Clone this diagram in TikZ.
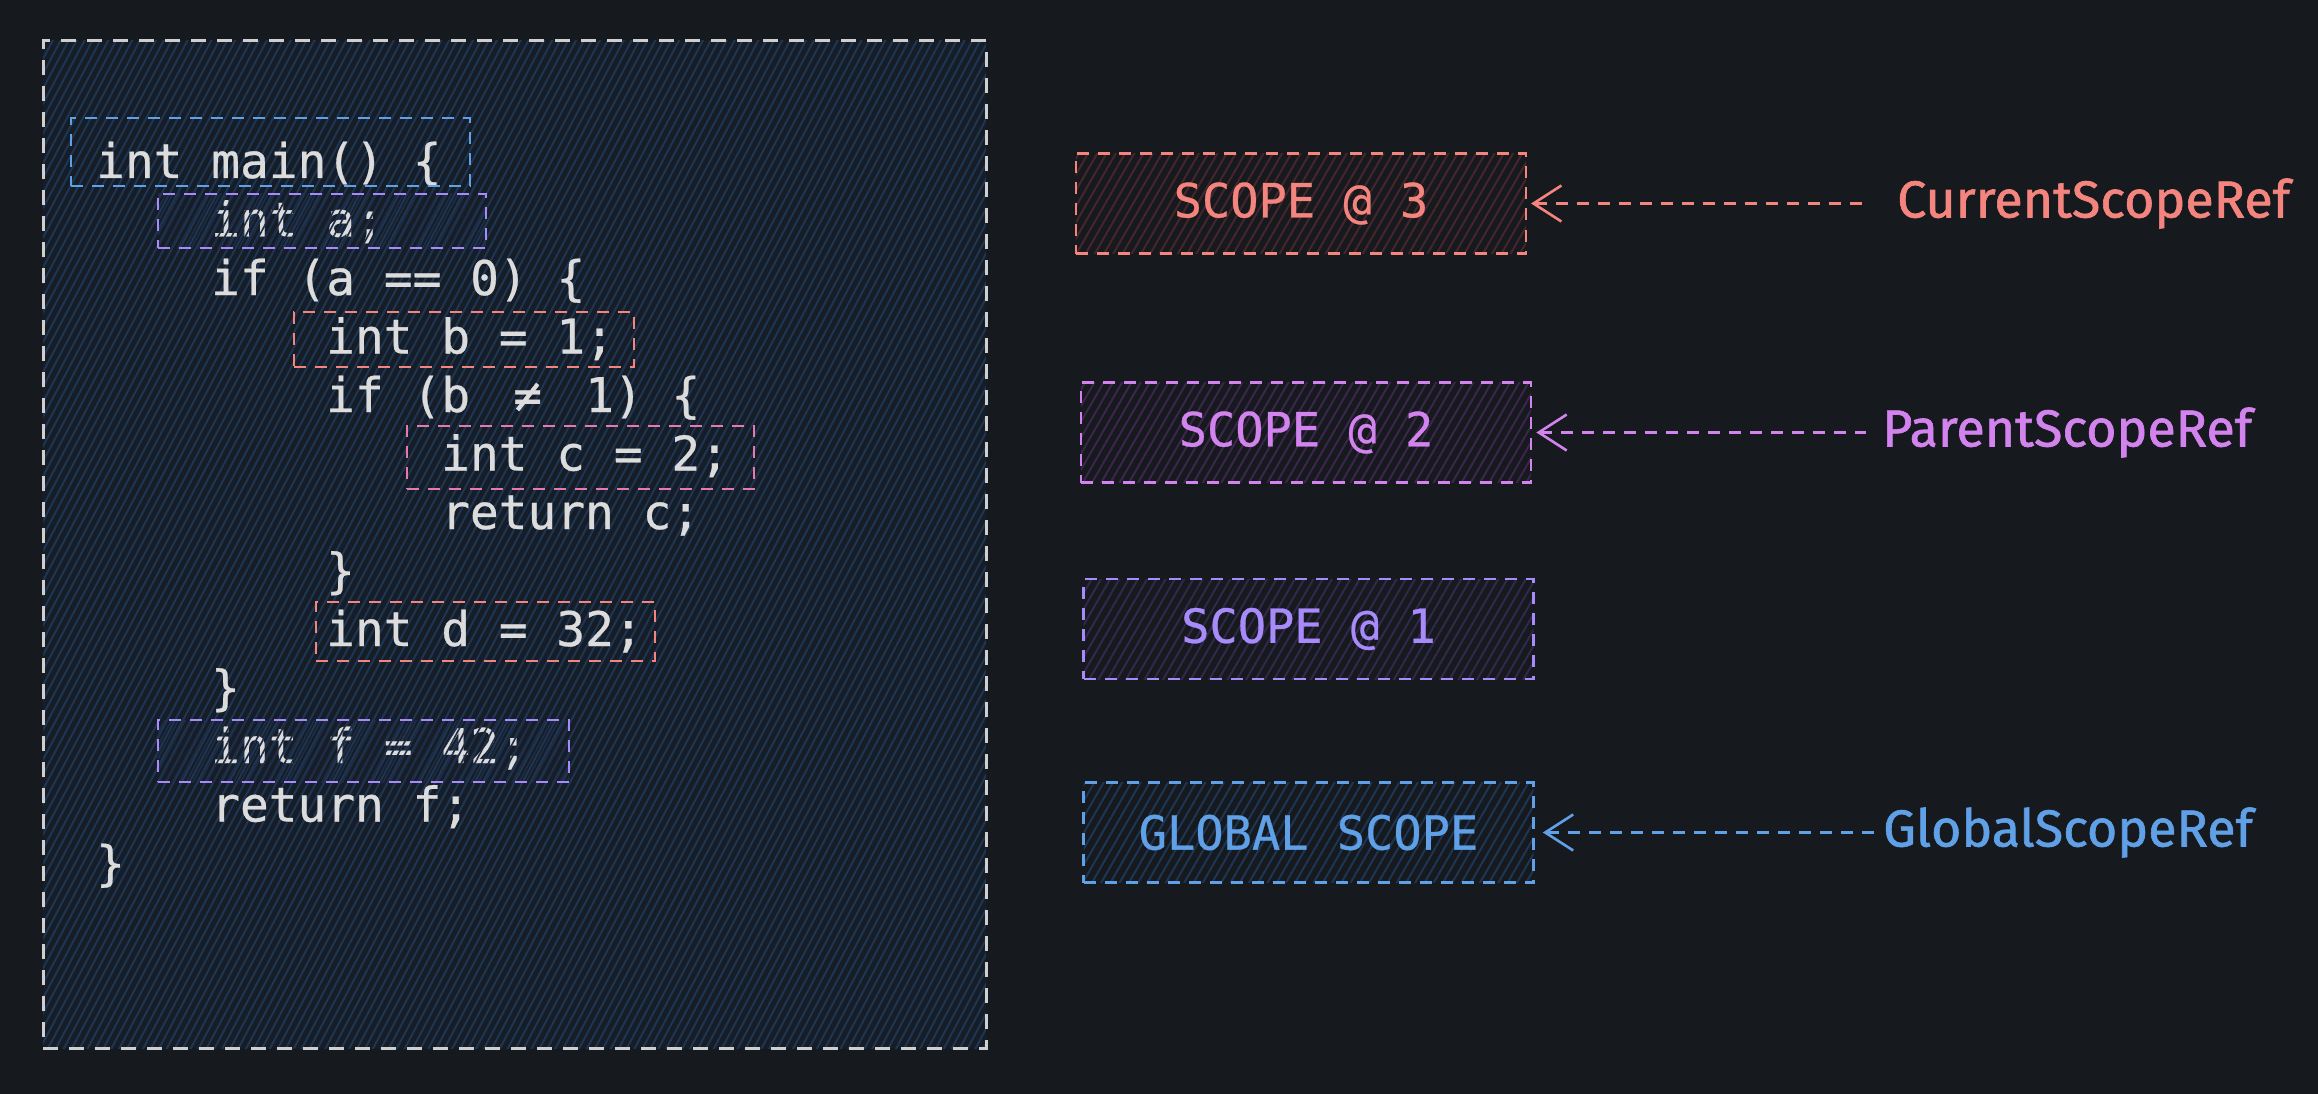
\documentclass[tikz,border=0pt]{standalone}
\usepackage{fontspec}
\setmainfont{Fira Sans}
\newfontfamily\codefont[FakeBold=0.6]{DejaVu Sans Mono}
\newfontfamily\handfont[FakeBold=1.2]{Fira Sans}
\usetikzlibrary{patterns.meta,arrows.meta}
\definecolor{bg}{HTML}{16191E}
\definecolor{codebg}{HTML}{161D27}
\definecolor{codehatch}{HTML}{1D3654}
\definecolor{frame}{HTML}{CFCFCF}
\definecolor{codetext}{HTML}{DCDCDC}
\definecolor{cblue}{HTML}{5FA0E6}
\definecolor{cpurple}{HTML}{A78BFA}
\definecolor{cred}{HTML}{F4847E}
\definecolor{cpink}{HTML}{E67AAE}
\definecolor{corchid}{HTML}{D383EE}
\begin{document}
\begin{tikzpicture}[x=1pt,y=-1pt,
  bigbox/.style={draw=frame, line width=3pt, dash pattern=on 15pt off 11pt,
    preaction={fill=codebg},
    pattern={Lines[angle=62,distance=7pt,line width=2pt]}, pattern color=codehatch,
    inner sep=0pt},
  codeline/.style={font=\codefont\fontsize{47.8}{58}\selectfont, text=codetext, anchor=base west, inner sep=0pt},
  cbox/.style={draw=#1, line width=2.6pt, dash pattern=on 12pt off 9pt, inner sep=0pt},
  scopebox/.style={draw=#1, text=#1, line width=2.6pt, dash pattern=on 12pt off 9pt,
    font=\codefont\fontsize{47}{52}\selectfont, inner sep=0pt,
    minimum width=450pt, minimum height=100pt},
  reflabel/.style={text=#1, font=\handfont\fontsize{52}{60}\selectfont, anchor=west, inner sep=0pt},
  ref/.style={draw=#1, line width=2.6pt, dash pattern=on 12pt off 9pt,
    arrows={Straight Barb[length=28pt,width=36pt,line width=2.6pt]-}}
]
\fill[bg] (0,0) rectangle (2318,1094);
\useasboundingbox (0,0) rectangle (2318,1094);

% code frame
\node[bigbox, minimum width=943pt, minimum height=1007pt] (frame) at (514.5,544.5) {};

% code lines
\node[codeline] (l1) at (96,178) {int main() \{};
\node[codeline] (l2) at (211,236.5) {int a;};
\node[codeline] (l3) at (211,295) {if (a == 0) \{};
\node[codeline] (l4) at (326,353.5) {int b = 1;};
\node[codeline] (l5) at (326,412) {if (b \makebox[57.6pt]{≠} 1) \{};
\node[codeline] (l6) at (441,470.5) {int c = 2;};
\node[codeline] (l7) at (441,529) {return c;};
\node[codeline] (l8) at (326,587.5) {\}};
\node[codeline] (l9) at (326,646) {int d = 32;};
\node[codeline] (l10) at (211,704.5) {\}};
\node[codeline] (l11) at (211,763) {int f = 42;};
\node[codeline] (l12) at (211,821.5) {return f;};
\node[codeline] (l13) at (96,880) {\}};

% scope boxes around code
\node[cbox=cblue, minimum width=399pt, minimum height=68pt] (bmain) at (270.5,152) {};
\node[cbox=cpurple, minimum width=328pt, minimum height=54pt,
      pattern={Lines[angle=62,distance=6pt,line width=1.6pt]},
      pattern color={rgb,255:red,30;green,44;blue,70}] (ba) at (322,221) {};
\node[cbox=cred, minimum width=340pt, minimum height=55pt] (bb) at (464,339.5) {};
\node[cbox=cpink, minimum width=347pt, minimum height=63pt] (bc) at (580.5,457.5) {};
\node[cbox=cred, minimum width=339pt, minimum height=59pt] (bd) at (485.5,631.5) {};
\node[cbox=cpurple, minimum width=411pt, minimum height=62pt,
      pattern={Lines[angle=62,distance=6pt,line width=1.6pt]},
      pattern color={rgb,255:red,30;green,44;blue,70}] (bf) at (363.5,751) {};

% right-hand scope boxes
\node[scopebox=cred, preaction={fill=bg},
      pattern={Lines[angle=60,distance=8pt,line width=2pt]}, pattern color={rgb,255:red,70;green,38;blue,42}]
      (s3) at (1301,203.5) {SCOPE @ 3};
\node[scopebox=corchid, preaction={fill=bg},
      pattern={Lines[angle=60,distance=8pt,line width=2pt]}, pattern color={rgb,255:red,60;green,38;blue,76}]
      (s2) at (1306,432.5) {SCOPE @ 2};
\node[scopebox=cpurple, preaction={fill=bg},
      pattern={Lines[angle=60,distance=8pt,line width=2pt]}, pattern color={rgb,255:red,50;green,40;blue,76}]
      (s1) at (1308.5,629) {SCOPE @ 1};
\node[scopebox=cblue, preaction={fill=bg},
      pattern={Lines[angle=60,distance=8pt,line width=2pt]}, pattern color={rgb,255:red,28;green,54;blue,84}]
      (sg) at (1308.5,832.5) {GLOBAL SCOPE};

% reference labels
\node[reflabel=cred] (cur) at (1897,203.5) {CurrentScopeRef};
\node[reflabel=corchid] (par) at (1882,432.5) {ParentScopeRef};
\node[reflabel=cblue] (glo) at (1883,832.5) {GlobalScopeRef};

% connectors
\draw[ref=cred, shorten <=4pt, shorten >=31pt] (s3.east) -- (cur.west);
\draw[ref=corchid, shorten <=4pt, shorten >=16pt] (s2.east) -- (par.west);
\draw[ref=cblue, shorten <=8pt, shorten >=6pt] (sg.east) -- (glo.west);
\end{tikzpicture}
\end{document}
